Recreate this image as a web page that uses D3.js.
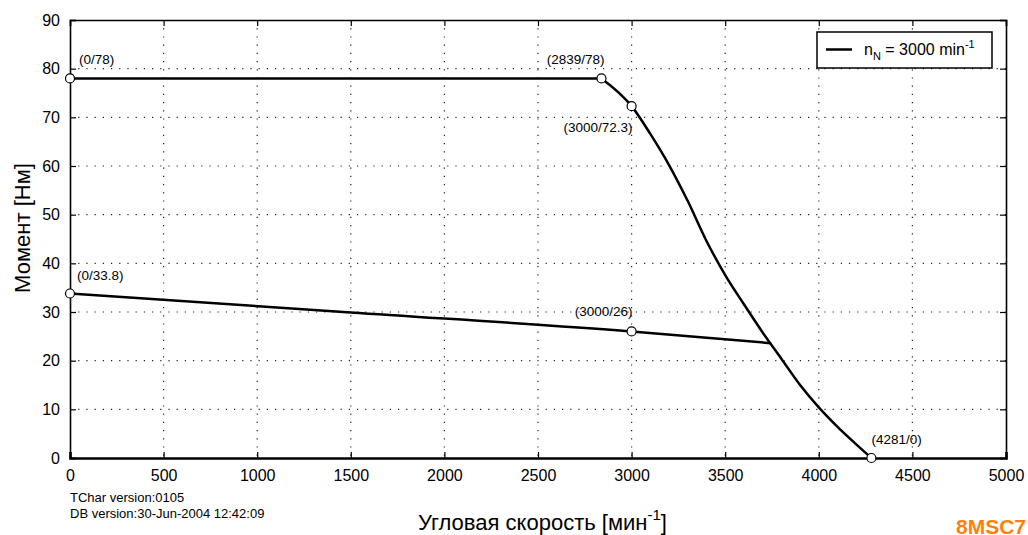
<!DOCTYPE html>
<html><head><meta charset="utf-8">
<script src="https://cdn.jsdelivr.net/npm/d3@7"></script>
<style>body{margin:0;background:#fff}svg{display:block;font-family:"Liberation Sans",Arial,sans-serif}</style>
</head><body><svg id="c" width="1028" height="535"></svg>
<script>
const xTicks=[0,500,1000,1500,2000,2500,3000,3500,4000,4500,5000];
const yTicks=[0,10,20,30,40,50,60,70,80,90];
// Peak torque curve (speed, torque)
const peakSpeed=[0,2839,3000,3100,3200,3300,3400,3500,3600,3700,3800,3900,4000,4100,4200,4281];
const peakTorque=[78,78,72.3,66.6,60.2,52.8,44.6,37.6,31.6,25.8,20.4,15.0,10.4,6.4,2.8,0];
// Continuous torque curve
const contSpeed=[0,1500,3000,3745];
const contTorque=[33.8,29.9,26,23.6];
// Marked points
const markSpeed=[0,2839,3000,0,3000,4281];
const markTorque=[78,78,72.3,33.8,26,0];
const markLabel=["(0/78)","(2839/78)","(3000/72.3)","(0/33.8)","(3000/26)","(4281/0)"];
const legendText="3000";

const svg=d3.select("#c");
const L=70,R=1006,T=20,B=458;
const x=d3.scaleLinear().domain([0,5000]).range([L,R]);
const y=d3.scaleLinear().domain([0,90]).range([B,T]);

// grid
const g=svg.append("g");
g.selectAll(".vg").data(xTicks.slice(1,-1)).enter().append("line")
 .attr("x1",d=>x(d)).attr("x2",d=>x(d)).attr("y1",T).attr("y2",B)
 .attr("stroke","#222").attr("stroke-width",1.2).attr("stroke-dasharray","1.2,7");
g.selectAll(".hg").data(yTicks.slice(1,-1)).enter().append("line")
 .attr("y1",d=>y(d)).attr("y2",d=>y(d)).attr("x1",L).attr("x2",R)
 .attr("stroke","#222").attr("stroke-width",1.2).attr("stroke-dasharray","1.2,7");

// axes
const xa=svg.append("g").attr("transform",`translate(0,${B})`)
 .call(d3.axisBottom(x).tickValues(xTicks).tickSize(-6).tickPadding(12).tickFormat(d3.format("d")));
const xt=svg.append("g").attr("transform",`translate(0,${T})`)
 .call(d3.axisTop(x).tickValues(xTicks).tickSize(-6).tickFormat(""));
const ya=svg.append("g").attr("transform",`translate(${L},0)`)
 .call(d3.axisLeft(y).tickValues(yTicks).tickSize(-6).tickPadding(10));
const yr=svg.append("g").attr("transform",`translate(${R},0)`)
 .call(d3.axisRight(y).tickValues(yTicks).tickSize(-6).tickFormat(""));
[xa,xt,ya,yr].forEach(a=>{a.select(".domain").attr("stroke","#000").attr("stroke-width",1.6);
 a.selectAll(".tick line").attr("stroke","#000").attr("stroke-width",1.2);
 a.selectAll("text").attr("font-size",16).attr("fill","#000").attr("font-family","Liberation Sans, Arial, sans-serif");});
xa.select(".domain").attr("stroke-width",2.6);

// curves
const line=d3.line().x(d=>x(d[0])).y(d=>y(d[1]));
const peak=peakSpeed.map((s,i)=>[s,peakTorque[i]]);
const cont=contSpeed.map((s,i)=>[s,contTorque[i]]);
svg.append("path").datum(peak.slice(0,2)).attr("d",line).attr("fill","none").attr("stroke","#000").attr("stroke-width",2.5);
svg.append("path").datum(peak.slice(1)).attr("d",d3.line().x(d=>x(d[0])).y(d=>y(d[1])).curve(d3.curveMonotoneX)).attr("fill","none").attr("stroke","#000").attr("stroke-width",2.5);
svg.append("path").datum(cont).attr("d",d3.line().x(d=>x(d[0])).y(d=>y(d[1])).curve(d3.curveMonotoneX)).attr("fill","none").attr("stroke","#000").attr("stroke-width",2.5);

// markers
svg.selectAll(".m").data(markSpeed).enter().append("circle")
 .attr("cx",d=>x(d)).attr("cy",(d,i)=>y(markTorque[i])).attr("r",4.5)
 .attr("fill","#fff").attr("stroke","#000").attr("stroke-width",1.2);
const lab=[{dx:9,dy:-14,a:"start"},{dx:3,dy:-14,a:"end"},{dx:1,dy:26,a:"end"},{dx:7,dy:-14,a:"start"},{dx:1,dy:-15,a:"end"},{dx:0,dy:-14,a:"start"}];
svg.selectAll(".ml").data(markLabel).enter().append("text")
 .attr("x",(d,i)=>x(markSpeed[i])+lab[i].dx).attr("y",(d,i)=>y(markTorque[i])+lab[i].dy)
 .attr("text-anchor",(d,i)=>lab[i].a).attr("font-size",13.5).text(d=>d);

// legend
svg.append("rect").attr("x",817).attr("y",32).attr("width",175).attr("height",36).attr("fill","#fff").attr("stroke","#000").attr("stroke-width",1.5);
svg.append("line").attr("x1",826).attr("x2",852).attr("y1",49.5).attr("y2",49.5).attr("stroke","#000").attr("stroke-width",2.5);
const lt=svg.append("text").attr("x",864).attr("y",55).attr("font-size",16);
lt.append("tspan").text("n");
lt.append("tspan").attr("font-size",11).attr("dy",5).text("N");
lt.append("tspan").attr("dy",-5).text(" = "+legendText+" min");
lt.append("tspan").attr("font-size",11).attr("dy",-7).text("-1");

// axis titles
svg.append("text").attr("transform","translate(30,228) rotate(-90)").attr("text-anchor","middle").attr("font-size",22).text("Момент [Нм]");
const xl=svg.append("text").attr("x",418).attr("y",530).attr("font-size",22);
xl.append("tspan").text("Угловая скорость [мин");
xl.append("tspan").attr("font-size",15).attr("dy",-10).text("-1");
xl.append("tspan").attr("dy",10).text("]");

svg.append("text").attr("x",70).attr("y",502).attr("font-size",13).text("TChar version:0105");
svg.append("text").attr("x",70).attr("y",518).attr("font-size",13).text("DB version:30-Jun-2004 12:42:09");
svg.append("text").attr("x",956).attr("y",534).attr("font-size",21).attr("font-weight","bold").attr("fill","#ff7f0e").text("8MSC7");
</script></body></html>
